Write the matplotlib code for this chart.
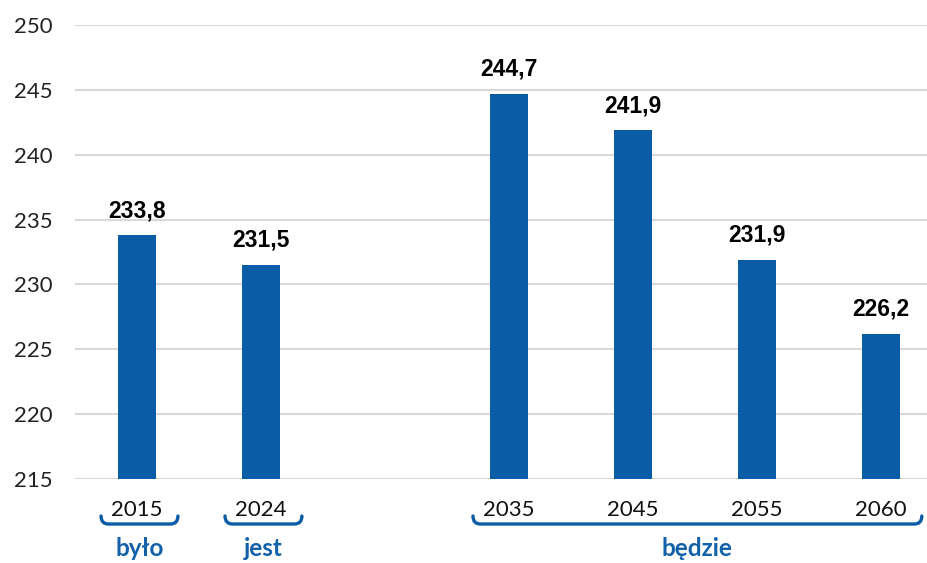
import matplotlib
matplotlib.use("Agg")
import matplotlib.pyplot as plt
from matplotlib.path import Path
from matplotlib.patches import PathPatch
import matplotlib.transforms as mtransforms

categories = ["2015", "2024", "2035", "2045", "2055", "2060"]
values = [233.8, 231.5, 244.7, 241.9, 231.9, 226.2]
value_labels = ["233,8", "231,5", "244,7", "241,9", "231,9", "226,2"]
slots = [0, 1, 3, 4, 5, 6]
groups = [("było", [0]), ("jest", [1]), ("będzie", [2, 3, 4, 5])]
yticks = [215, 220, 225, 230, 235, 240, 245, 250]

BLUE = "#0B5CA6"
GROUP_BLUE = "#1361A9"

fig = plt.figure(figsize=(9.28, 5.63), dpi=100)
ax = fig.add_axes([75 / 928, 1 - 479 / 563, 1 - 75 / 928, (479 - 25) / 563])

ax.bar(slots, [v - 215 for v in values], bottom=215, width=0.31, color=BLUE, zorder=3)
ax.set_ylim(215, 250)
ax.set_xlim(-0.5, 6.38)
ax.set_yticks(yticks)
ax.set_yticklabels([str(t) for t in yticks], fontfamily="Lato", fontsize=16, color="#222222")
ax.set_xticks(slots)
ax.set_xticklabels(categories, fontfamily="Lato", fontsize=16, color="#111111")
ax.tick_params(axis="both", length=0)
ax.tick_params(axis="y", pad=16)
ax.tick_params(axis="x", pad=15)
ax.grid(axis="y", color="#D9D9D9", linewidth=1.5, zorder=0)
for s in ax.spines.values():
    s.set_visible(False)

for x, v, lab in zip(slots, values, value_labels):
    ax.annotate(lab, (x, v), xytext=(0, 13), textcoords="offset points",
                ha="center", va="baseline", fontsize=16.5, fontweight="bold",
                fontfamily="Liberation Sans", color="#000000", zorder=4)

trans = mtransforms.blended_transform_factory(ax.transData, ax.transAxes)
ybot = (479 - 524) / 454
ytop = (479 - 516) / 454
r = 0.06
for name, idx in groups:
    x0 = slots[idx[0]] - 0.29
    x1 = slots[idx[-1]] + 0.33
    verts = [(x0, ytop), (x0, ybot), (x0 + r, ybot), (x1 - r, ybot), (x1, ybot), (x1, ytop)]
    codes = [Path.MOVETO, Path.CURVE3, Path.CURVE3, Path.LINETO, Path.CURVE3, Path.CURVE3]
    patch = PathPatch(Path(verts, codes), transform=trans, facecolor="none",
                      edgecolor=BLUE, linewidth=2.4, clip_on=False, capstyle="round")
    ax.add_patch(patch)
    ax.text((x0 + x1) / 2, (479 - 537) / 454, name, transform=trans, ha="center", va="top",
            fontsize=17.5, fontweight="bold", fontfamily="Lato", color=GROUP_BLUE, clip_on=False)

fig.savefig("out.png", dpi=100)
